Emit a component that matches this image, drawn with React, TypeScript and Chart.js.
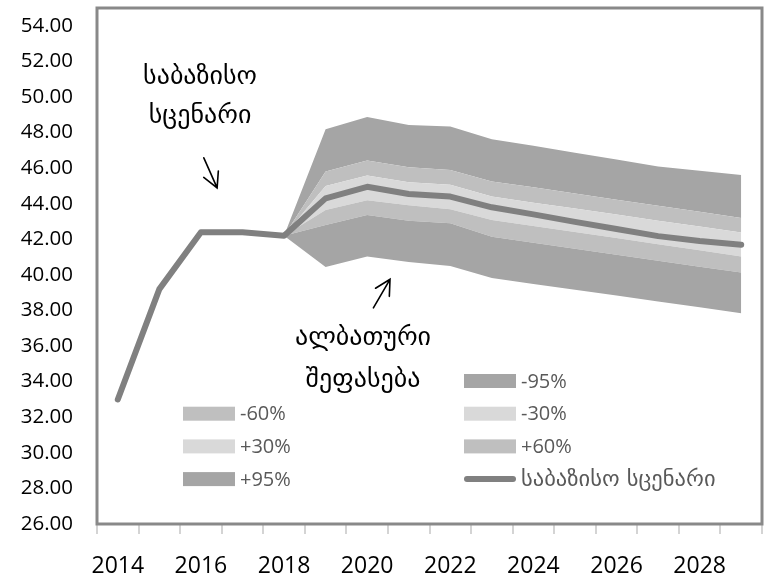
import React, { useEffect, useRef } from "react";
import { Chart, registerables } from "chart.js";

Chart.register(...registerables);

const years = ["2014","2015","2016","2017","2018","2019","2020","2021","2022","2023","2024","2025","2026","2027","2028","2029"];
const base = [33.0, 39.2, 42.4, 42.4, 42.2, 44.3, 44.95, 44.55, 44.4, 43.8, 43.4, 42.98, 42.58, 42.18, 41.9, 41.7];
const lower95 = [null, null, null, null, 42.2, 40.45, 41.03, 40.72, 40.5, 39.82, 39.49, 39.16, 38.84, 38.51, 38.18, 37.85];
const lower60 = [null, null, null, null, 42.2, 42.8, 43.37, 43.05, 42.9, 42.15, 41.81, 41.47, 41.13, 40.8, 40.46, 40.13];
const lower30 = [null, null, null, null, 42.2, 43.65, 44.2, 43.92, 43.69, 43.09, 42.75, 42.41, 42.07, 41.72, 41.38, 41.03];
const upper30 = [null, null, null, null, 42.2, 45.0, 45.58, 45.2, 45.06, 44.4, 44.06, 43.73, 43.39, 43.05, 42.72, 42.38];
const upper60 = [null, null, null, null, 42.2, 45.81, 46.43, 46.05, 45.9, 45.25, 44.93, 44.57, 44.23, 43.89, 43.55, 43.2];
const upper95 = [null, null, null, null, 42.2, 48.19, 48.88, 48.43, 48.34, 47.63, 47.26, 46.86, 46.48, 46.09, 45.85, 45.62];

const bandLabels = ["-95%", "-60%", "-30%", "+30%", "+60%", "+95%"];
const baseLabel = "საბაზისო სცენარი";
const annotTop = ["საბაზისო", "სცენარი"];
const annotBottom = ["ალბათური", "შეფასება"];

const DARK = "#a5a5a5";
const MID = "#bfbfbf";
const LIGHT = "#d9d9d9";
const LINE = "#808080";
const FONT = "'Open Sans', 'DejaVu Sans', sans-serif";
const GEO = "'DejaVu Sans', sans-serif";

function drawArrow(ctx: CanvasRenderingContext2D, x1: number, y1: number, x2: number, y2: number) {
  const ang = Math.atan2(y2 - y1, x2 - x1);
  const len = 17;
  const spread = (28 * Math.PI) / 180;
  ctx.beginPath();
  ctx.moveTo(x1, y1);
  ctx.lineTo(x2, y2);
  ctx.moveTo(x2 + len * Math.cos(ang + Math.PI - spread), y2 + len * Math.sin(ang + Math.PI - spread));
  ctx.lineTo(x2, y2);
  ctx.lineTo(x2 + len * Math.cos(ang + Math.PI + spread), y2 + len * Math.sin(ang + Math.PI + spread));
  ctx.stroke();
}

const isGeorgian = (s: string) => /[\u10A0-\u10FF]/.test(s);

const decorPlugin = {
  id: "decor",
  afterDraw(chart: any) {
    const ctx: CanvasRenderingContext2D = chart.ctx;
    const { left, top, right, bottom } = chart.chartArea;
    const xs = chart.scales.x;
    const ys = chart.scales.y;
    ctx.save();
    // plot border
    ctx.strokeStyle = "#898989";
    ctx.lineWidth = 3;
    ctx.strokeRect(left, top, right - left, bottom - top);

    // annotations
    ctx.fillStyle = "#000";
    ctx.font = `26px ${GEO}`;
    ctx.textAlign = "center";
    ctx.textBaseline = "middle";
    ctx.fillText(annotTop[0], xs.getPixelForValue(1.98), ys.getPixelForValue(51.13));
    ctx.fillText(annotTop[1], xs.getPixelForValue(1.98), ys.getPixelForValue(48.9));
    ctx.fillText(annotBottom[0], xs.getPixelForValue(5.9), ys.getPixelForValue(36.46));
    ctx.fillText(annotBottom[1], xs.getPixelForValue(5.9), ys.getPixelForValue(34.1));

    ctx.strokeStyle = "#000";
    ctx.lineWidth = 1.6;
    ctx.lineCap = "round";
    drawArrow(ctx, xs.getPixelForValue(2.07), ys.getPixelForValue(46.58), xs.getPixelForValue(2.39), ys.getPixelForValue(44.89));
    drawArrow(ctx, xs.getPixelForValue(6.15), ys.getPixelForValue(38.15), xs.getPixelForValue(6.55), ys.getPixelForValue(39.75));

    // legend
    const ds = chart.data.datasets;
    const cells = [null, ds[2], ds[3], ds[4], ds[5], ds[6], ds[7], ds[0]];
    const colX = [183, 464];
    const row0 = 381;
    const rowH = 32.7;
    const swW = 52;
    const swH = 14;
    ctx.textAlign = "left";
    ctx.textBaseline = "middle";
    cells.forEach((d: any, i: number) => {
      if (!d) return;
      const c = i % 2;
      const r = Math.floor(i / 2);
      const x = colX[c];
      const yy = row0 + r * rowH;
      if (d.fill === false) {
        ctx.strokeStyle = d.borderColor;
        ctx.lineWidth = 6;
        ctx.lineCap = "round";
        ctx.beginPath();
        ctx.moveTo(x + 3, yy);
        ctx.lineTo(x + swW - 3, yy);
        ctx.stroke();
      } else {
        ctx.fillStyle = d.backgroundColor;
        ctx.fillRect(x, yy - swH / 2, swW, swH);
      }
      ctx.fillStyle = "#595959";
      ctx.font = isGeorgian(d.label) ? `22.5px ${GEO}` : `20px ${FONT}`;
      ctx.fillText(d.label, x + swW + 5, yy + 1);
    });
    ctx.restore();
  },
};

export default function App() {
  const ref = useRef<HTMLCanvasElement | null>(null);
  useEffect(() => {
    if (!ref.current) return;
    const baseFan = base.map((v, i) => (upper30[i] == null ? null : v));
    const band = (label: string, data: (number | null)[], color: string) => ({
      label,
      data,
      fill: "-1",
      backgroundColor: color,
      borderColor: "transparent",
      borderWidth: 0,
      pointRadius: 0,
      order: 1,
    });
    const chart = new Chart(ref.current, {
      type: "line",
      data: {
        labels: years,
        datasets: [
          {
            label: baseLabel,
            data: base,
            borderColor: LINE,
            backgroundColor: LINE,
            borderWidth: 6,
            borderJoinStyle: "round",
            borderCapStyle: "round",
            pointRadius: 0,
            fill: false,
            order: 0,
          } as any,
          { label: "", data: lower95, borderColor: "transparent", borderWidth: 0, pointRadius: 0, fill: false, order: 1 },
          band(bandLabels[0], lower60, DARK),
          band(bandLabels[1], lower30, MID),
          band(bandLabels[2], baseFan, LIGHT),
          band(bandLabels[3], upper30, LIGHT),
          band(bandLabels[4], upper60, MID),
          band(bandLabels[5], upper95, DARK),
        ],
      },
      options: {
        responsive: false,
        animation: false,
        layout: { padding: { top: 8, right: 3, left: 0, bottom: 0 } },
        plugins: { legend: { display: false }, tooltip: { enabled: false } },
        scales: {
          x: {
            type: "category",
            offset: true,
            grid: {
              offset: true,
              drawOnChartArea: false,
              drawTicks: true,
              tickLength: 10,
              color: "#d4d4d4",
              lineWidth: 2,
            },
            border: { display: false },
            ticks: {
              autoSkip: false,
              maxRotation: 0,
              padding: 19,
              color: "#000",
              font: { family: FONT, size: 23 },
              callback: (_v: any, i: number) => (Number(years[i]) % 2 === 0 ? years[i] : ""),
            },
            afterFit: (s: any) => {
              s.height = 51;
              s.paddingLeft = 0;
              s.paddingRight = 0;
            },
          },
          y: {
            min: 26,
            max: 55,
            grid: { display: false, drawTicks: false },
            border: { display: false },
            ticks: {
              stepSize: 2,
              includeBounds: false,
              padding: 24,
              color: "#000",
              font: { family: FONT, size: 20.5 },
              callback: (v: any) => Number(v).toFixed(2),
            },
            afterBuildTicks: (s: any) => {
              s.ticks = s.ticks.filter((t: any) => t.value <= 54);
            },
            afterFit: (s: any) => {
              s.width = 97;
              s.paddingTop = 0;
              s.paddingBottom = 0;
            },
          },
        },
      },
      plugins: [decorPlugin],
    } as any);
    return () => chart.destroy();
  }, []);
  return (
    <div style={{ position: "absolute", left: 0, top: 0, width: 765, height: 575, background: "#fff" }}>
      <canvas ref={ref} width={765} height={575} style={{ display: "block" }} />
    </div>
  );
}
